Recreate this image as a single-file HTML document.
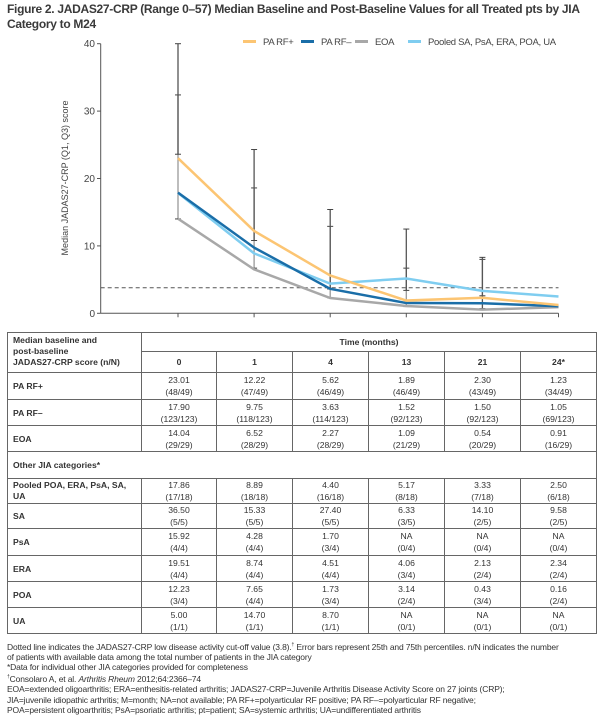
<!DOCTYPE html>
<html><head><meta charset="utf-8">
<style>
body{margin:0;background:#fff;font-family:"Liberation Sans",sans-serif;color:#333;}
#wrap{position:relative;width:602px;height:717px;overflow:hidden;}
#title{position:absolute;left:7px;top:2px;font-size:12px;letter-spacing:-0.3px;font-weight:bold;line-height:15px;color:#3a3a3a;white-space:nowrap;}
svg{position:absolute;left:0;top:0;}
table{position:absolute;left:7px;top:332px;border-collapse:collapse;font-size:8.6px;color:#333;}
td{border:1px solid #666;text-align:center;line-height:12px;padding:0;}
td.l{text-align:left;padding-left:5px;font-weight:bold;white-space:nowrap;}
.h td{font-weight:bold;}
#notes{position:absolute;left:7px;top:640px;font-size:8.5px;letter-spacing:-0.15px;line-height:10.2px;color:#333;white-space:nowrap;}
</style></head><body>
<div id="wrap">
<div id="title">Figure 2. JADAS27-CRP (Range 0–57) Median Baseline and Post-Baseline Values for all Treated pts by JIA<br>Category to M24</div>
<svg id="chart" width="602" height="330"></svg>
<table>
<tr class="h" style="height:19px"><td class="l" rowspan="2" style="width:128px;line-height:11px;vertical-align:top;padding-top:2px">Median baseline and<br>post-baseline<br>JADAS27-CRP score (n/N)</td><td colspan="6">Time (months)</td></tr>
<tr class="h" style="height:21px"><td style="width:74px">0</td><td style="width:75px">1</td><td style="width:75px">4</td><td style="width:75px">13</td><td style="width:75px">21</td><td style="width:75px">24*</td></tr>
<tr style="height:27px"><td class="l">PA RF+</td><td>23.01<br>(48/49)</td><td>12.22<br>(47/49)</td><td>5.62<br>(46/49)</td><td>1.89<br>(46/49)</td><td>2.30<br>(43/49)</td><td>1.23<br>(34/49)</td></tr>
<tr style="height:26px"><td class="l">PA RF–</td><td>17.90<br>(123/123)</td><td>9.75<br>(118/123)</td><td>3.63<br>(114/123)</td><td>1.52<br>(92/123)</td><td>1.50<br>(92/123)</td><td>1.05<br>(69/123)</td></tr>
<tr style="height:26px"><td class="l">EOA</td><td>14.04<br>(29/29)</td><td>6.52<br>(28/29)</td><td>2.27<br>(28/29)</td><td>1.09<br>(21/29)</td><td>0.54<br>(20/29)</td><td>0.91<br>(16/29)</td></tr>
<tr style="height:27px"><td class="l" colspan="7">Other JIA categories*</td></tr>
<tr style="height:25px"><td class="l" style="line-height:11px">Pooled POA, ERA, PsA, SA,<br>UA</td><td>17.86<br>(17/18)</td><td>8.89<br>(18/18)</td><td>4.40<br>(16/18)</td><td>5.17<br>(8/18)</td><td>3.33<br>(7/18)</td><td>2.50<br>(6/18)</td></tr>
<tr style="height:25px"><td class="l">SA</td><td>36.50<br>(5/5)</td><td>15.33<br>(5/5)</td><td>27.40<br>(5/5)</td><td>6.33<br>(3/5)</td><td>14.10<br>(2/5)</td><td>9.58<br>(2/5)</td></tr>
<tr style="height:27px"><td class="l">PsA</td><td>15.92<br>(4/4)</td><td>4.28<br>(4/4)</td><td>1.70<br>(3/4)</td><td>NA<br>(0/4)</td><td>NA<br>(0/4)</td><td>NA<br>(0/4)</td></tr>
<tr style="height:26px"><td class="l">ERA</td><td>19.51<br>(4/4)</td><td>8.74<br>(4/4)</td><td>4.51<br>(4/4)</td><td>4.06<br>(3/4)</td><td>2.13<br>(2/4)</td><td>2.34<br>(2/4)</td></tr>
<tr style="height:26px"><td class="l">POA</td><td>12.23<br>(3/4)</td><td>7.65<br>(4/4)</td><td>1.73<br>(3/4)</td><td>3.14<br>(2/4)</td><td>0.43<br>(3/4)</td><td>0.16<br>(2/4)</td></tr>
<tr style="height:26px"><td class="l">UA</td><td>5.00<br>(1/1)</td><td>14.70<br>(1/1)</td><td>8.70<br>(1/1)</td><td>NA<br>(0/1)</td><td>NA<br>(0/1)</td><td>NA<br>(0/1)</td></tr>
</table>
<div id="notes">Dotted line indicates the JADAS27-CRP low disease activity cut-off value (3.8).<sup style="font-size:5px">†</sup> Error bars represent 25th and 75th percentiles. n/N indicates the number<br>of patients with available data among the total number of patients in the JIA category<br>*Data for individual other JIA categories provided for completeness<br><sup style="font-size:5px">†</sup>Consolaro A, et al. <i>Arthritis Rheum</i> 2012;64:2366–74<br>EOA=extended oligoarthritis; ERA=enthesitis-related arthritis; JADAS27-CRP=Juvenile Arthritis Disease Activity Score on 27 joints (CRP);<br>JIA=juvenile idiopathic arthritis; M=month; NA=not available; PA RF+=polyarticular RF positive; PA RF–=polyarticular RF negative;<br>POA=persistent oligoarthritis; PsA=psoriatic arthritis; pt=patient; SA=systemic arthritis; UA=undifferentiated arthritis</div>
</div>
<script>
const categories = ["0","1","4","13","21","24"];
const yTicks = [0,10,20,30,40];
const paRfPlus = [23.01,12.22,5.62,1.89,2.30,1.23];
const paRfMinus = [17.90,9.75,3.63,1.52,1.50,1.05];
const eoa = [14.04,6.52,2.27,1.09,0.54,0.91];
const pooled = [17.86,8.89,4.40,5.17,3.33,2.50];
const errLowA = [23.6,10.8,3.6,3.4,0.7];
const errHighA = [40,24.3,15.4,12.5,8.3];
const errLowB = [14,6.7,2.3,1.0,2.6];
const errHighB = [32.4,18.6,12.9,6.7,8.0];
const cutoff = 3.8;
const ns="http://www.w3.org/2000/svg";
const svg=document.getElementById('chart');
const x0=178, dx=76.1, y0=313.3, ppu=6.74;
const X=i=>x0+i*dx, Y=v=>y0-v*ppu;
function mk(t,a,p){const e=document.createElementNS(ns,t);for(const k in a)e.setAttribute(k,a[k]);(p||svg).appendChild(e);return e;}
let e;
e=mk('line',{x1:100.7,y1:Y(40),x2:100.7,y2:y0,stroke:'#555','stroke-width':1});


e=mk('line',{x1:100.7,y1:y0,x2:X(5),y2:y0,stroke:'#555','stroke-width':1});


yTicks.forEach(v=>{
 mk('line',{x1:97,y1:Y(v),x2:100.7,y2:Y(v),stroke:'#555'});
 e=mk('text',{x:95,y:Y(v)+3.5,'text-anchor':'end','font-size':'10',fill:'#444'});e.textContent=v;
 
 
});
categories.forEach((c,i)=>{mk('line',{x1:X(i),y1:y0,x2:X(i),y2:y0+4,stroke:'#555'});});
e=mk('text',{x:0,y:0,transform:'translate(68,178) rotate(-90)','text-anchor':'middle','font-size':'9',fill:'#444'});
e.textContent='Median JADAS27-CRP (Q1, Q3) score';


e=mk('line',{x1:100.7,y1:Y(cutoff),x2:X(5),y2:Y(cutoff),stroke:'#555','stroke-dasharray':'4,3'});


function err(lo,hi,col,name){lo.forEach((l,i)=>{
 e=mk('line',{x1:X(i),y1:Y(l),x2:X(i),y2:Y(hi[i]),stroke:col,'stroke-width':1.3});
 
 
 [l,hi[i]].forEach(v=>mk('line',{x1:X(i)-3,y1:Y(v),x2:X(i)+3,y2:Y(v),stroke:'#444','stroke-width':1}));
});}
err(errLowB,errHighB,'#999','error-bar-b');
err(errLowA,errHighA,'#555','error-bar-a');
const series=[[eoa,'#a8a8a8','line-eoa'],[pooled,'#7fcdf0','line-pooled'],[paRfMinus,'#1a6ea8','line-pa-rf-minus'],[paRfPlus,'#fcc573','line-pa-rf-plus']];
series.forEach(s=>{
 e=mk('polyline',{points:s[0].map((v,i)=>X(i)+','+Y(v)).join(' '),fill:'none',stroke:s[1],'stroke-width':2.5});
 
 
});
const legend=[['PA RF+','#fcc573',243],['PA RF–','#1a6ea8',301],['EOA','#a8a8a8',355],['Pooled SA, PsA, ERA, POA, UA','#7fcdf0',408]];
legend.forEach(l=>{
 const g=mk('g',{});
 
 
 mk('line',{x1:l[2],y1:41.5,x2:l[2]+13,y2:41.5,stroke:l[1],'stroke-width':3},g);
 const t=mk('text',{x:l[2]+20,y:45,'font-size':'9.5',fill:'#444','letter-spacing':'-0.3'},g);t.textContent=l[0];
});
</script>
</body></html>
